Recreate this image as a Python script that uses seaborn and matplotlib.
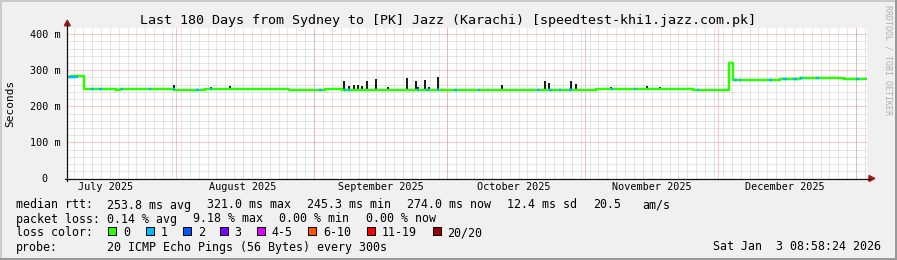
import numpy as np
import pandas as pd
import matplotlib
matplotlib.use("Agg")
import matplotlib.pyplot as plt
import matplotlib.dates as mdates
import seaborn as sns
from matplotlib.patches import Rectangle, Polygon
from matplotlib.lines import Line2D

# ---------------- data ----------------
START = "2025-07-07 08:58:24"
END = "2026-01-03 08:58:24"

# median rtt as a step series: day offset from START where a level begins, and level in ms
break_days = [0.0, 1.0, 2.0, 3.8, 11.0, 12.0, 18.0, 24.0, 31.0, 37.0, 50.0, 58.0,
              62.0, 86.0, 119.0, 141.0, 149.1, 150.0, 160.5, 165.0, 175.0, 180.0]
median_ms = [280, 284, 285, 247, 246, 248, 247, 246, 247, 248, 245.5, 247,
             246, 246.5, 249, 246, 320, 273, 276, 278, 275, 275]

# spans (day offsets) where 1 of 20 pings was lost
loss1_start = [0.0, 5.5, 7.3, 12.2, 18.5, 23.9, 29.1, 32.1, 56.8, 62.3, 63.2, 78.8,
               80.9, 83.3, 87.2, 92.4, 105.9, 108.6, 110.8, 113.1, 122.5, 127.6,
               141.7, 150.2, 151.3, 158.1, 161.2, 163.5, 165.0, 168.7, 177.7]
loss1_end = [2.5, 6.0, 7.8, 12.7, 19.0, 24.4, 29.6, 32.6, 57.3, 62.8, 63.6, 79.3,
             81.4, 83.8, 87.7, 92.9, 106.4, 109.1, 111.3, 113.6, 123.0, 128.1,
             142.2, 150.7, 151.8, 158.6, 162.0, 164.2, 165.7, 169.2, 178.2]

# smoke spikes: day offset, low end and high end in ms
spike_days = [3.8, 24.0, 32.3, 36.8, 62.4, 63.4, 64.5, 65.6, 66.5, 67.6, 69.6, 72.3,
              76.6, 78.6, 79.1, 80.6, 81.5, 83.6, 97.9, 107.6, 108.6, 113.5, 114.6,
              122.5, 130.6, 133.5, 149.1, 150.0]
spike_low = [247, 246, 247, 247, 246, 246, 246, 246, 246, 246, 246, 246,
             246, 246, 246, 246, 246, 246, 246.5, 246.5, 246.5, 246.5, 246.5,
             249, 249, 249, 246, 273]
spike_high = [285, 259, 253, 256, 270, 256, 258, 259, 256, 270, 276, 254,
              278, 269, 254, 273, 254, 281, 259, 269, 266, 271, 262,
              254, 257, 253, 320, 320]

month_starts = ["2025-08-01", "2025-09-01", "2025-10-01", "2025-11-01", "2025-12-01", "2026-01-01"]
month_label_dates = ["2025-07-16", "2025-08-16", "2025-09-16", "2025-10-16", "2025-11-16", "2025-12-16"]
month_labels = ["July 2025", "August 2025", "September 2025", "October 2025",
                "November 2025", "December 2025"]
y_major = [0, 100, 200, 300, 400]
y_labels = ["0", "100 m", "200 m", "300 m", "400 m"]

title = "Last 180 Days from Sydney to [PK] Jazz (Karachi) [speedtest-khi1.jazz.com.pk]"
rtt_parts = ["median rtt:", "253.8 ms avg", "321.0 ms max", "245.3 ms min",
             "274.0 ms now", "12.4 ms sd", "20.5", "am/s"]
loss_parts = ["packet loss:", "0.14 % avg", "9.18 % max", "0.00 % min", "0.00 % now"]
loss_color_labels = ["0", "1", "2", "3", "4-5", "6-10", "11-19", "20/20"]
loss_colors = ["#26ff00", "#00b8ff", "#0059ff", "#7e00ff", "#dd00ff", "#ff5500", "#ff0000", "#a00000"]
probe_text = "20 ICMP Echo Pings (56 Bytes) every 300s"
stamp_text = "Sat Jan  3 08:58:24 2026"

# ---------------- layout ----------------
W, H = 897, 260
L, R, T, B = 67.0, 866.7, 27.7, 178.5

sns.set_style("white")
plt.rcParams["font.family"] = ["DejaVu Sans Mono"]
plt.rcParams["text.color"] = "black"

fig = plt.figure(figsize=(W / 100, H / 100), dpi=100, facecolor="#f0f0f0")
ax = fig.add_axes([L / W, 1 - B / H, (R - L) / W, (B - T) / H])
ax.set_facecolor("white")
for s in ax.spines.values():
    s.set_visible(False)


def px(x, y):
    return x / W, 1 - y / H


def ftext(x, y, s, **kw):
    kw.setdefault("va", "baseline")
    kw.setdefault("ha", "left")
    fig.text(x / W, 1 - y / H, s, **kw)


t0 = mdates.date2num(pd.Timestamp(START))
t1 = mdates.date2num(pd.Timestamp(END))
ax.set_xlim(t0, t1)
ax.set_ylim(0, 418)

# grid (drawn explicitly)
dot = (0, (1, 1))
minor_x = mdates.date2num(pd.date_range("2025-07-09", "2026-01-03", freq="2D"))
major_x = mdates.date2num(pd.to_datetime(month_starts))
for v in minor_x:
    ax.axvline(v, color="#cccccc", lw=0.72, ls=dot, zorder=0.5)
for v in np.arange(20, 420, 20):
    if v % 100:
        ax.axhline(v, color="#cccccc", lw=0.72, ls=dot, zorder=0.5)
for v in major_x:
    ax.axvline(v, color="#f09090", lw=0.72, ls=dot, zorder=0.6)
for v in [100, 200, 300, 400]:
    ax.axhline(v, color="#f09090", lw=0.72, ls=dot, zorder=0.6)

ax.set_yticks(y_major)
ax.set_yticks(np.arange(0, 420, 20), minor=True)
ax.set_yticklabels([])
ax.set_xticks([])
ax.tick_params(axis="y", which="major", length=4, width=0.72, color="#e09090", direction="out")
ax.tick_params(axis="y", which="minor", length=2.5, width=0.72, color="#a8a8a8", direction="out")
ax.grid(False)

# smoke spikes
sx = t0 + np.array(spike_days)
ax.vlines(sx, spike_low, spike_high, color="#1c1c1c", lw=1.45, zorder=2)

# median line (green = no loss)
df = pd.DataFrame({"t": t0 + np.array(break_days), "ms": median_ms})
sns.lineplot(data=df, x="t", y="ms", drawstyle="steps-post", color=loss_colors[0],
             lw=1.75, ax=ax, zorder=3, estimator=None, sort=False)

# loss segments (1/20)
bd = np.array(break_days)
mv = np.array(median_ms)
for a, b in zip(loss1_start, loss1_end):
    idx = np.searchsorted(bd, a, side="right") - 1
    ax.hlines(mv[idx], t0 + a, t0 + b, color=loss_colors[1], lw=1.75, zorder=4)

ax.set_xlabel("")
ax.set_ylabel("")

# y tick labels
ytrans = ax.get_yaxis_transform()
for v, lab in zip(y_major, y_labels):
    if lab == "0":
        ax.text((44.7 - L) / (R - L), v, lab, transform=ytrans, ha="center", va="center_baseline",
                fontsize=7.25)
    else:
        ax.text((60.5 - L) / (R - L), v, lab, transform=ytrans, ha="right", va="center_baseline",
                fontsize=7.25)

# month labels
xtrans = ax.get_xaxis_transform()
for d, lab in zip(month_label_dates, month_labels):
    ax.text(mdates.date2num(pd.Timestamp(d)), (B - 190.5) / (B - T), lab, transform=xtrans,
            ha="center", va="baseline", fontsize=7.25)

# axes lines and arrows
fig.add_artist(Line2D([65 / W, 870 / W], [1 - 178.5 / H] * 2, color="#111111", lw=0.9))
fig.add_artist(Line2D([67.3 / W] * 2, [1 - 181 / H, 1 - 23 / H], color="#111111", lw=0.9))
fig.add_artist(Polygon([px(64.3, 25.8), px(70.3, 25.8), px(67.3, 20.2)], closed=True,
                       transform=fig.transFigure, color="#a01818"))
fig.add_artist(Polygon([px(869, 175.5), px(869, 181.5), px(874.8, 178.5)], closed=True,
                       transform=fig.transFigure, color="#a01818"))

# title & axis label & watermark
ftext(447.5, 24.3, title, ha="center", fontsize=9.6)
ftext(10.5, 103.5, "Seconds", ha="center", va="center", rotation=90, fontsize=8.0)
ftext(888.3, 60, "RRDTOOL / TOBI OETIKER", ha="center", va="center", rotation=270,
      fontsize=6.0, color="#b0b0b0")

# legend block
fs = 8.4
for x, s in zip([16, 107.3, 207.3, 307.3, 407.3, 507.3, 593.3, 642.7], rtt_parts):
    ftext(x, 208.5, s, fontsize=fs)
for x, s in zip([16, 107.3, 193.3, 279.3, 365.7], loss_parts):
    ftext(x, 222.5, s, fontsize=fs)
ftext(16, 236.5, "loss color:", fontsize=fs)
box_x = [108.3, 145.7, 182.7, 219.7, 256.7, 307.9, 366.5, 432.5]
lab_x = [123.3, 160.7, 197.7, 234.7, 271.7, 323.0, 381.5, 447.5]
for bx, lx, c, lab in zip(box_x, lab_x, loss_colors, loss_color_labels):
    x0, y0 = px(bx, 235.3)
    fig.add_artist(Rectangle((x0, y0), 8 / W, 8 / H, transform=fig.transFigure,
                             facecolor=c, edgecolor="black", lw=0.72))
    ftext(lx, 236.5, lab, fontsize=fs)
ftext(16, 250.5, "probe:", fontsize=fs)
ftext(107.3, 250.5, probe_text, fontsize=fs)
ftext(880.5, 250.5, stamp_text, ha="right", fontsize=fs)

# 3D-ish frame of the image
fig.add_artist(Rectangle((0, 1 - 2 / H), 1, 2 / H, transform=fig.transFigure, color="#cbcbcb", lw=0))
fig.add_artist(Rectangle((0, 0), 2 / W, 1, transform=fig.transFigure, color="#cbcbcb", lw=0))
fig.add_artist(Rectangle((0, 0), 1, 2 / H, transform=fig.transFigure, color="#999999", lw=0))
fig.add_artist(Rectangle((1 - 2 / W, 0), 2 / W, 1, transform=fig.transFigure, color="#999999", lw=0))

fig.savefig("out.png", dpi=100, facecolor=fig.get_facecolor())
